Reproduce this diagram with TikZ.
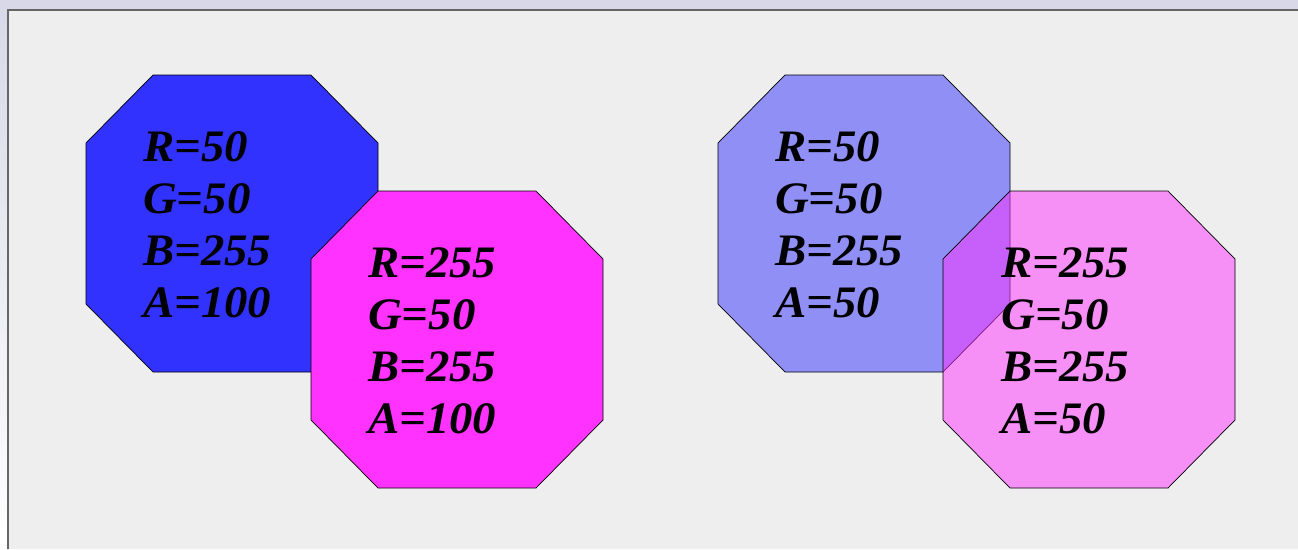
\documentclass[tikz,border=0pt]{standalone}
\usepackage{fontspec}
\setmainfont{Liberation Serif}
\newfontfamily\valfont[FakeStretch=1.04]{Liberation Serif}
\definecolor{pageband}{HTML}{D8D8E8}
\definecolor{panelbg}{HTML}{EEEEEE}
\definecolor{panelline}{HTML}{666666}
\definecolor{blueoct}{RGB}{50,50,255}
\definecolor{magoct}{RGB}{255,50,255}
\tikzset{
  octblue/.style={fill=blueoct,draw=black,line width=0.7pt},
  octmag/.style={fill=magoct,draw=black,line width=0.7pt},
  halfalpha/.style={fill opacity=0.5},
  vallabel/.style={anchor=base west,inner sep=0pt,font=\valfont\fontsize{45}{52}\selectfont\bfseries\itshape}
}
\newcommand\octpath[2]{(#1,-#2) ++(67,0) -- ++(158,0) -- ++(67,-68) -- ++(0,-161) -- ++(-67,-68) -- ++(-158,0) -- ++(-67,68) -- ++(0,161) -- cycle}
\newcommand\rgbalabels[7]{%
  \node[vallabel] (#1r) at (#2,-#3) {R=#4};
  \node[vallabel] (#1g) at (#2,-#3-52) {G=#5};
  \node[vallabel] (#1b) at (#2,-#3-104) {B=#6};
  \node[vallabel] (#1a) at (#2,-#3-156) {A=#7};
}
\begin{document}
\begin{tikzpicture}[x=1pt,y=1pt]
\useasboundingbox (0,0) rectangle (1298,-549);
% outer band
\shade[top color=pageband,bottom color=white] (0,0) rectangle (8,-549);
\fill[pageband] (0,0) rectangle (1298,-9.5);
% panel
\fill[panelbg] (8,-9.5) rectangle (1298,-549);
\draw[panelline,line width=1.6pt] (7.7,-549) -- (7.7,-9.7) -- (1298,-9.7);
% left pair (opaque)
\draw[octblue] \octpath{86}{75};
\draw[octmag] \octpath{311}{191};
\rgbalabels{lb}{143}{161}{50}{50}{255}{100}
\rgbalabels{lm}{368}{277}{255}{50}{255}{100}
% right pair (half transparent)
\draw[octblue,halfalpha] \octpath{718}{75};
\draw[octmag,halfalpha] \octpath{943}{191};
\rgbalabels{rb}{775}{161}{50}{50}{255}{50}
\rgbalabels{rm}{1001}{277}{255}{50}{255}{50}
\end{tikzpicture}
\end{document}
